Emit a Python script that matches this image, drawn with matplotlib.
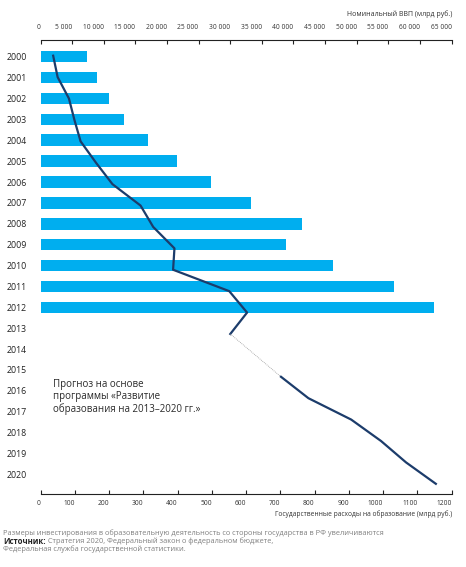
import numpy as np
import matplotlib
matplotlib.use("Agg")
import matplotlib.pyplot as plt
from matplotlib.ticker import FuncFormatter

plt.rcParams['font.family'] = ['Open Sans', 'DejaVu Sans']

# years shown on the left
years = [str(y) for y in range(2000, 2021)]

# nominal GDP, bn rub (bars, top axis)
gdp_years = list(range(2000, 2013))
gdp = [7306, 8944, 10831, 13208, 17027, 21610, 26917, 33248, 41277, 38807, 46309, 55967, 62218]

# state spending on education, bn rub (line, bottom axis)
edu_years = list(range(2000, 2014))
edu = [37, 50, 83, 99, 117, 162, 210, 292, 329, 391, 387, 551, 603, 554]
fc_years = [2015, 2016, 2017, 2018, 2019, 2020]
fc = [702, 782, 907, 994, 1067, 1154]

gdp_ticks = list(range(0, 65001, 5000))
edu_ticks = list(range(0, 1201, 100))

bar_c = '#00AEEF'
line_c = '#1C3C6B'
txt_c = '#222222'
grey = '#808080'

W, H = 466, 567
fig = plt.figure(figsize=(W / 100, H / 100), dpi=100)

left, right, top, bottom = 40.5, 451.6, 40, 494
ax = fig.add_axes([left / W, 1 - bottom / H, (right - left) / W, (bottom - top) / H])
ax2 = ax.twiny()

yi = lambda y: y - 2000
ax.barh([yi(y) for y in gdp_years], gdp, height=0.55, color=bar_c, zorder=2)
ax.set_xlim(0, 65000)
ax.set_ylim(20.94, -0.80)

# top axis: GDP
ax.xaxis.set_ticks_position('top')
ax.set_xticks(gdp_ticks)
ax.xaxis.set_major_formatter(FuncFormatter(lambda v, p: f'{int(v):,}'.replace(',', ' ')))
ax.tick_params(axis='x', top=True, bottom=False, labeltop=True, labelbottom=False,
               direction='in', length=3, width=0.8, pad=6.5,
               labelsize=4.8, labelcolor='#333333', color='#222222')
for lb in ax.get_xticklabels():
    lb.set_ha('right')

ax.set_yticks(range(len(years)))
ax.set_yticklabels(years)
ax.tick_params(axis='y', length=0, pad=17.3, labelsize=6.3, labelcolor=txt_c)
for lb in ax.get_yticklabels():
    lb.set_ha('center')

for s in ['left', 'right', 'bottom']:
    ax.spines[s].set_visible(False)
ax.spines['top'].set_linewidth(0.8)
ax.spines['top'].set_color('#222222')

# bottom axis: education spending
ax2.set_xlim(0, 1200)
ax2.set_xticks(edu_ticks)
ax2.tick_params(axis='x', top=False, bottom=True, labeltop=False, labelbottom=True,
                direction='in', length=3, width=0.8, pad=4,
                labelsize=4.8, labelcolor='#333333', color='#222222')
for lb in ax2.get_xticklabels():
    lb.set_ha('right')
for s in ['left', 'right', 'top']:
    ax2.spines[s].set_visible(False)
ax2.spines['bottom'].set_visible(True)
ax2.spines['bottom'].set_linewidth(0.8)
ax2.spines['bottom'].set_color('#222222')

# line rows are spaced a little wider than the bars
ly = lambda ys: [yi(y) * 1.025 - 0.048 for y in ys]
ax2.plot(edu, ly(edu_years), color=line_c, lw=1.6, solid_joinstyle='round', zorder=3)
ax2.plot([edu[-1], fc[0]], ly([edu_years[-1], fc_years[0]]), color='#9A9A9A',
         lw=0.6, ls=(0, (1, 1.2)), zorder=3)
ax2.plot(fc, ly(fc_years), color=line_c, lw=1.6, solid_joinstyle='round', zorder=3)

fig.text(452 / W, 1 - 14 / H, 'Номинальный ВВП (млрд руб.)', ha='right', va='center',
         fontsize=5, color='#333333')
fig.text(452 / W, 1 - 514 / H, 'Государственные расходы на образование (млрд руб.)',
         ha='right', va='center', fontsize=4.8, color='#333333')

fig.text(53 / W, 1 - 379 / H,
         'Прогноз на основе\nпрограммы «Развитие\nобразования на 2013–2020 гг.»',
         ha='left', va='top', fontsize=7, color='#2a2a2a', linespacing=1.12)

# footer
fig.text(3 / W, 1 - 532.7 / H,
         'Размеры инвестирования в образовательную деятельность со стороны государства в РФ увеличиваются',
         ha='left', va='center', fontsize=5.3, color=grey)
src = fig.text(3 / W, 1 - 541 / H, 'Источник:', ha='left', va='center', fontsize=5.6,
               color='#222222', fontweight='bold')
ax.annotate(' Стратегия 2020, Федеральный закон о федеральном бюджете,', xy=(1, 0.5),
            xycoords=src, ha='left', va='center', fontsize=5.3, color=grey,
            annotation_clip=False)
fig.text(3 / W, 1 - 549.3 / H, 'Федеральная служба государственной статистики.',
         ha='left', va='center', fontsize=5.3, color=grey)

fig.savefig('out.png', dpi=100)
